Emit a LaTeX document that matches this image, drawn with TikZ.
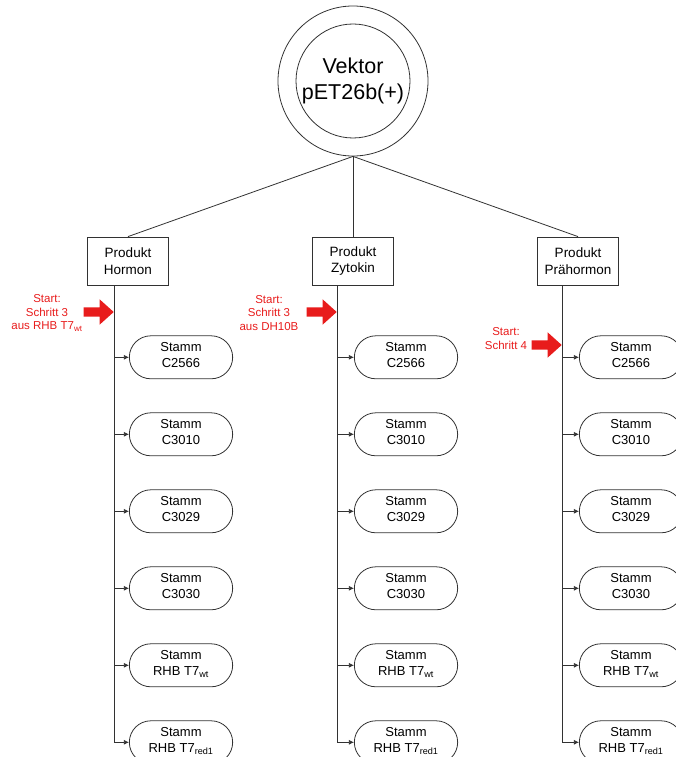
\documentclass[tikz,border=0pt]{standalone}
\usepackage{fontspec}
\setmainfont{Liberation Sans}
\usetikzlibrary{positioning,shapes.misc,shapes.arrows,arrows.meta}
\definecolor{startred}{RGB}{232,28,28}
\definecolor{linegray}{RGB}{50,50,50}
\tikzset{
    vector-ring/.style = {draw=linegray, circle, line width=0.8pt, minimum size=150pt, inner sep=0pt},
    vector-core/.style = {draw=linegray, circle, line width=0.8pt, minimum size=114pt, inner sep=0pt, align=center, font=\fontsize{21.5}{26}\selectfont},
    product-box/.style = {draw=linegray, rectangle, line width=0.8pt, minimum width=81pt, minimum height=48pt, align=center, font=\fontsize{13.5}{16.5}\selectfont},
    strain-box/.style = {draw=linegray, rounded rectangle, line width=0.8pt, minimum width=110pt, minimum height=43pt, text depth=5pt, align=center, font=\fontsize{13}{16}\selectfont},
    start-note/.style = {text=startred, align=center, font=\fontsize{11.5}{13.5}\selectfont},
    start-arrow/.style = {single arrow, fill=startred, draw=none, inner xsep=0pt, inner ysep=4.5pt, minimum height=30pt, single arrow head extend=8pt, single arrow tip angle=84, anchor=tip},
    link/.style = {draw=linegray, line width=0.8pt},
    branch/.style = {link, -{Latex[length=5pt,width=5pt]}},
}

\begin{document}
\begin{tikzpicture}[x=1pt,y=-1pt]
\useasboundingbox (0,0) rectangle (676,757);

% vector
\node [vector-ring] (vector-ring) at (353,81) {};
\node [vector-core] (vector) at (vector-ring) {Vektor\\pET26b(+)};

% products
\node [product-box] (hormon) at (128,261) {Produkt\\Hormon};
\node [product-box] (zytokin) at (353,261) {Produkt\\Zytokin};
\node [product-box] (prohormon) at (578,261) {Produkt\\Prähormon};
\draw [link] (vector-ring.south) -- (hormon.north);
\draw [link] (vector-ring.south) -- (zytokin.north);
\draw [link] (vector-ring.south) -- (prohormon.north);

% strains under hormon
\node [strain-box, below=50pt of hormon, xshift=53pt] (h1) {Stamm\\C2566};
\node [strain-box, below=33.2pt of h1] (h2) {Stamm\\C3010};
\node [strain-box, below=33.2pt of h2] (h3) {Stamm\\C3029};
\node [strain-box, below=33.2pt of h3] (h4) {Stamm\\C3030};
\node [strain-box, below=33.2pt of h4] (h5) {Stamm\\RHB T7\textsubscript{wt}};
\node [strain-box, below=33.2pt of h5] (h6) {Stamm\\RHB T7\textsubscript{red1}};
\coordinate (hormon-trunk) at ([xshift=-14pt]hormon.south);
\draw [branch] (hormon-trunk) |- (h6.west);
\draw [branch] (hormon-trunk |- h1.west) -- (h1.west);
\draw [branch] (hormon-trunk |- h2.west) -- (h2.west);
\draw [branch] (hormon-trunk |- h3.west) -- (h3.west);
\draw [branch] (hormon-trunk |- h4.west) -- (h4.west);
\draw [branch] (hormon-trunk |- h5.west) -- (h5.west);

% strains under zytokin
\node [strain-box, below=50pt of zytokin, xshift=53pt] (z1) {Stamm\\C2566};
\node [strain-box, below=33.2pt of z1] (z2) {Stamm\\C3010};
\node [strain-box, below=33.2pt of z2] (z3) {Stamm\\C3029};
\node [strain-box, below=33.2pt of z3] (z4) {Stamm\\C3030};
\node [strain-box, below=33.2pt of z4] (z5) {Stamm\\RHB T7\textsubscript{wt}};
\node [strain-box, below=33.2pt of z5] (z6) {Stamm\\RHB T7\textsubscript{red1}};
\coordinate (zytokin-trunk) at ([xshift=-16pt]zytokin.south);
\draw [branch] (zytokin-trunk) |- (z6.west);
\draw [branch] (zytokin-trunk |- z1.west) -- (z1.west);
\draw [branch] (zytokin-trunk |- z2.west) -- (z2.west);
\draw [branch] (zytokin-trunk |- z3.west) -- (z3.west);
\draw [branch] (zytokin-trunk |- z4.west) -- (z4.west);
\draw [branch] (zytokin-trunk |- z5.west) -- (z5.west);

% strains under prohormon
\node [strain-box, below=50pt of prohormon, xshift=53pt] (p1) {Stamm\\C2566};
\node [strain-box, below=33.2pt of p1] (p2) {Stamm\\C3010};
\node [strain-box, below=33.2pt of p2] (p3) {Stamm\\C3029};
\node [strain-box, below=33.2pt of p3] (p4) {Stamm\\C3030};
\node [strain-box, below=33.2pt of p4] (p5) {Stamm\\RHB T7\textsubscript{wt}};
\node [strain-box, below=33.2pt of p5] (p6) {Stamm\\RHB T7\textsubscript{red1}};
\coordinate (prohormon-trunk) at ([xshift=-16pt]prohormon.south);
\draw [branch] (prohormon-trunk) |- (p6.west);
\draw [branch] (prohormon-trunk |- p1.west) -- (p1.west);
\draw [branch] (prohormon-trunk |- p2.west) -- (p2.west);
\draw [branch] (prohormon-trunk |- p3.west) -- (p3.west);
\draw [branch] (prohormon-trunk |- p4.west) -- (p4.west);
\draw [branch] (prohormon-trunk |- p5.west) -- (p5.west);

% start marks
\node [start-arrow] (hormon-start) at (hormon-trunk |- 0,312) {};
\node [start-note] (hormon-note) at (47,313) {Start:\\Schritt 3\\aus RHB T7\textsubscript{wt}};
\node [start-arrow] (zytokin-start) at (zytokin-trunk |- 0,312) {};
\node [start-note] (zytokin-note) at (269,313) {Start:\\Schritt 3\\aus DH10B};
\node [start-arrow] (prohormon-start) at (prohormon-trunk |- 0,345) {};
\node [start-note] (prohormon-note) at (506,338.5) {Start:\\Schritt 4};
\end{tikzpicture}
\end{document}
